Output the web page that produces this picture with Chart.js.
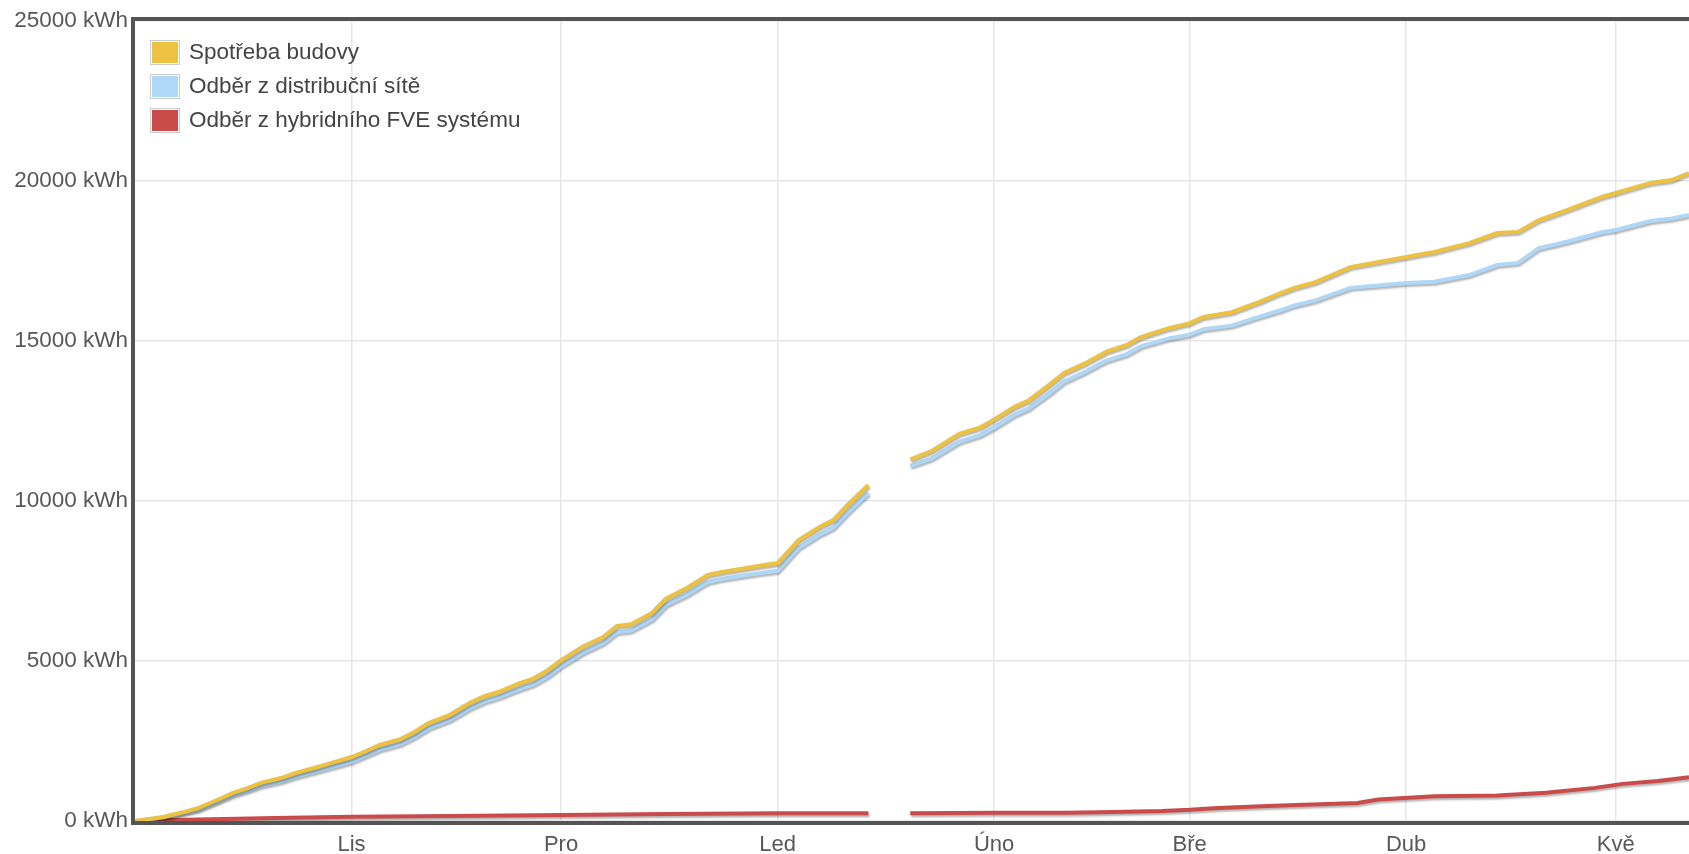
<!DOCTYPE html>
<html>
<head>
<meta charset="utf-8">
<script src="https://cdn.jsdelivr.net/npm/chart.js@4.4.0/dist/chart.umd.min.js"></script>
<style>
    html, body { margin: 0; padding: 0; background: #fff; overflow: hidden; }
    #wrap { position: relative; width: 1689px; height: 854px; }
    #legend {
        position: absolute; left: 150px; top: 35px;
        font: 22.5px "Liberation Sans", Arial, sans-serif; color: #444;
    }
    .row { display: flex; align-items: center; height: 34px; }
    .box { width: 26px; height: 21px; border: 1px solid #ccc; padding: 1px; margin-right: 9px; }
    .box div { width: 100%; height: 100%; }
</style>
</head>
<body>
<div id="wrap">
    <canvas id="energy-chart" width="1689" height="854"></canvas>
    <div id="legend"></div>
</div>
<script>
// Month ticks (day index counted from 1 Oct)
const monthDays = [31, 61, 92, 123, 151, 182, 212];
const monthLabels = ['Lis', 'Pro', 'Led', 'Úno', 'Bře', 'Dub', 'Kvě'];
const yTicks = [0, 5000, 10000, 15000, 20000, 25000];

// Cumulative values, shared days for building consumption and grid draw (null = data gap)
const days = [0, 2, 4, 7, 9, 12, 14, 16, 18, 21, 23, 26, 28, 31, 33, 35, 38, 40, 42, 45, 48, 50, 52, 55, 57, 59,
    61, 63, 64, 67, 69, 71, 74, 76, 79, 82, 84, 86, 89, 92, 93, 95, 98, 100, 102, 105, 108,
    111, 114, 118, 121, 123, 126, 128, 131, 133, 136, 139, 142, 144, 148, 151, 153, 157, 161, 164, 166, 169,
    174, 182, 186, 191, 195, 198, 201, 205, 210, 212, 217, 220, 222.5];
const spotreba = [0, 60, 125, 280, 400, 680, 880, 1020, 1190, 1350, 1500, 1680, 1810, 2000, 2180, 2375, 2560, 2780, 3060, 3310, 3700, 3900, 4030, 4300, 4450, 4700,
    5030, 5300, 5440, 5750, 6100, 6150, 6500, 6950, 7280, 7690, 7780, 7850, 7960, 8060, 8300, 8780, 9190, 9410, 9875, 10500, null,
    11300, 11560, 12100, 12300, 12550, 12950, 13150, 13650, 14000, 14300, 14660, 14875, 15125, 15400, 15560, 15750, 15900, 16220, 16500, 16660, 16840,
    17310, 17625, 17780, 18060, 18375, 18410, 18780, 19090, 19500, 19625, 19940, 20030, 20250];
const odberSit = [0, 55, 110, 255, 350, 620, 810, 940, 1100, 1250, 1390, 1560, 1680, 1860, 2040, 2230, 2410, 2625, 2900, 3150, 3530, 3730, 3860, 4120, 4270, 4510,
    4840, 5110, 5250, 5560, 5900, 5950, 6300, 6750, 7070, 7470, 7560, 7630, 7730, 7820, 8060, 8540, 8950, 9170, 9630, 10255, null,
    11100, 11320, 11850, 12060, 12300, 12700, 12900, 13380, 13730, 14030, 14380, 14590, 14830, 15080, 15200, 15370, 15480, 15760, 15960, 16110, 16270,
    16660, 16810, 16850, 17060, 17375, 17440, 17900, 18100, 18400, 18470, 18750, 18830, 18940];

// Draw from the hybrid PV system
const fveDays = [0, 4, 9, 20, 31, 45, 61, 76, 92, 105, 108, 111, 123, 133, 138, 147, 151, 155, 163, 175, 178, 186, 195, 202, 209, 213, 218, 222.5];
const odberFve = [0, 25, 50, 90, 135, 160, 190, 215, 240, 245, null, 245, 255, 260, 270, 310, 350, 410, 480, 565, 670, 770, 800, 880, 1035, 1160, 1250, 1370];

const FONT = '"Liberation Sans", Arial, sans-serif';
const TEXT_COLOR = '#585858';
const GRID_COLOR = '#e6e6e6';

function toPoints(xs, ys) {
    return xs.map((x, i) => ({ x: x, y: ys[i] }));
}

const datasets = [
    { label: 'Spotřeba budovy', data: toPoints(days, spotreba), borderColor: '#edc240', backgroundColor: '#edc240' },
    { label: 'Odběr z distribuční sítě', data: toPoints(days, odberSit), borderColor: '#afd8f8', backgroundColor: '#afd8f8' },
    { label: 'Odběr z hybridního FVE systému', data: toPoints(fveDays, odberFve), borderColor: '#cb4b4b', backgroundColor: '#cb4b4b' }
];
datasets.forEach(ds => {
    ds.borderWidth = 4;
    ds.pointRadius = 0;
    ds.tension = 0;
    ds.fill = false;
    ds.spanGaps = false;
});

// Flot-like soft shadow under the lines
const lineShadow = {
    id: 'lineShadow',
    beforeDatasetDraw(chart) {
        const c = chart.ctx;
        c.save();
        c.shadowColor = 'rgba(0, 0, 0, 0.3)';
        c.shadowOffsetX = 1;
        c.shadowOffsetY = 2;
        c.shadowBlur = 2;
    },
    afterDatasetDraw(chart) {
        chart.ctx.restore();
    }
};

// Dark frame round the plot (right side is cut off in the picture)
const plotBorder = {
    id: 'plotBorder',
    beforeDatasetsDraw(chart) {
        const { ctx, chartArea: a } = chart;
        ctx.save();
        ctx.strokeStyle = '#545454';
        ctx.lineWidth = 4;
        ctx.beginPath();
        ctx.moveTo(a.right + 4, a.top - 2);
        ctx.lineTo(a.left - 2, a.top - 2);
        ctx.lineTo(a.left - 2, a.bottom + 2);
        ctx.lineTo(a.right + 4, a.bottom + 2);
        ctx.stroke();
        ctx.restore();
    }
};

const ctx = document.getElementById('energy-chart').getContext('2d');
new Chart(ctx, {
    type: 'line',
    data: { datasets: datasets },
    options: {
        responsive: false,
        animation: false,
        layout: { padding: { top: 21, right: 0, left: 0, bottom: 0 } },
        plugins: {
            legend: { display: false },
            tooltip: { enabled: false }
        },
        scales: {
            x: {
                type: 'linear',
                min: 0,
                max: 222.5,
                afterBuildTicks: scale => { scale.ticks = monthDays.map(v => ({ value: v })); },
                afterFit: scale => { scale.height = 33; },
                ticks: {
                    callback: v => monthLabels[monthDays.indexOf(v)],
                    autoSkip: false,
                    maxRotation: 0,
                    padding: 11,
                    color: TEXT_COLOR,
                    font: { family: FONT, size: 22 }
                },
                grid: { color: GRID_COLOR, lineWidth: 1.5, drawTicks: false },
                border: { display: false }
            },
            y: {
                min: 0,
                max: 25000,
                afterBuildTicks: scale => { scale.ticks = yTicks.map(v => ({ value: v })); },
                afterFit: scale => { scale.width = 135; },
                ticks: {
                    callback: v => v + ' kWh',
                    padding: 7,
                    color: TEXT_COLOR,
                    font: { family: FONT, size: 22.5 }
                },
                grid: { color: GRID_COLOR, lineWidth: 1.5, drawTicks: false },
                border: { display: false }
            }
        }
    },
    plugins: [lineShadow, plotBorder]
});

// HTML legend in the top-left corner of the plot
const legend = document.getElementById('legend');
datasets.forEach(ds => {
    const row = document.createElement('div');
    row.className = 'row';
    row.innerHTML = '<div class="box"><div style="background:' + ds.borderColor + '"></div></div><span>' + ds.label + '</span>';
    legend.appendChild(row);
});
</script>
</body>
</html>
